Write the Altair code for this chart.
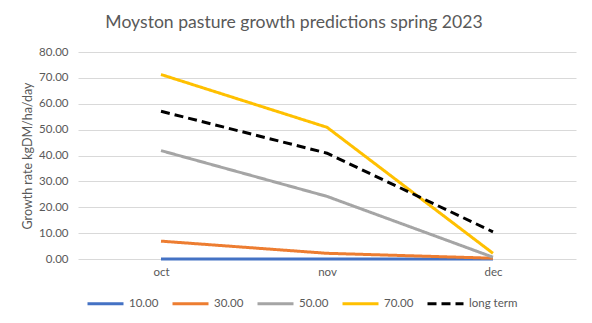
import altair as alt
import pandas as pd

months = ["oct", "nov", "dec"]
series_names = ["10.00", "30.00", "50.00", "70.00", "long term"]
s10 = [0.0, 0.0, 0.0]
s30 = [6.9, 2.2, 0.3]
s50 = [41.9, 24.2, 0.7]
s70 = [71.3, 50.9, 2.2]
long_term = [57.1, 40.9, 10.5]
colors = ["#4472C4", "#ED7D31", "#A5A5A5", "#FFC000", "#000000"]
dashes = [[1, 0], [1, 0], [1, 0], [1, 0], [9, 5]]
y_ticks = [0, 10, 20, 30, 40, 50, 60, 70, 80]

rows = []
for name, vals in zip(series_names, [s10, s30, s50, s70, long_term]):
    for i, (m, v) in enumerate(zip(months, vals)):
        rows.append({"month": m, "value": v, "series": name, "order": i})
df = pd.DataFrame(rows)

FONT = "Lato"
GREY = "#595959"

legend = alt.Legend(title=None, orient="none", direction="horizontal",
                    legendX=8, legendY=232, symbolType="stroke",
                    symbolSize=1296, symbolStrokeWidth=3,
                    labelFont=FONT, labelFontSize=11.5, labelColor=GREY,
                    labelOffset=4, columnPadding=7)

chart = alt.Chart(df).mark_line(strokeWidth=3, strokeCap="butt").encode(
    x=alt.X("month:N", sort=months, scale=alt.Scale(type="point", padding=0.5),
            axis=alt.Axis(title=None, ticks=False, domain=False, labelAngle=0,
                          labelPadding=7, labelFontSize=11.5, labelColor=GREY, labelFont=FONT)),
    y=alt.Y("value:Q", scale=alt.Scale(domain=[0, 80], nice=False),
            axis=alt.Axis(title="Growth rate kgDM/ha/day", format=".2f",
                          values=y_ticks, labelOverlap=False,
                          ticks=False, domain=False, gridColor="#D9D9D9", gridWidth=1,
                          labelPadding=10, labelFontSize=11.5, labelColor=GREY, labelFont=FONT,
                          titleFont=FONT, titleFontSize=12.5, titleFontWeight="normal",
                          titleColor=GREY, titlePadding=4)),
    color=alt.Color("series:N", sort=series_names,
                    scale=alt.Scale(domain=series_names, range=colors),
                    legend=legend),
    strokeDash=alt.StrokeDash("series:N", sort=series_names,
                              scale=alt.Scale(domain=series_names, range=dashes),
                              legend=legend),
    order=alt.Order("order:Q"),
).properties(
    width=498,
    height=207,
    autosize=alt.AutoSizeParams(type="none"),
    padding={"left": 70, "top": 44, "right": 8, "bottom": 56},
    title=alt.TitleParams("Moyston pasture growth predictions spring 2023", font=FONT,
                          fontSize=17.6, fontWeight="normal", color=GREY, anchor="middle",
                          dx=-33, offset=14),
).configure_view(stroke=None)

chart.save("out.html", embed_options={"renderer": "svg", "actions": False})
